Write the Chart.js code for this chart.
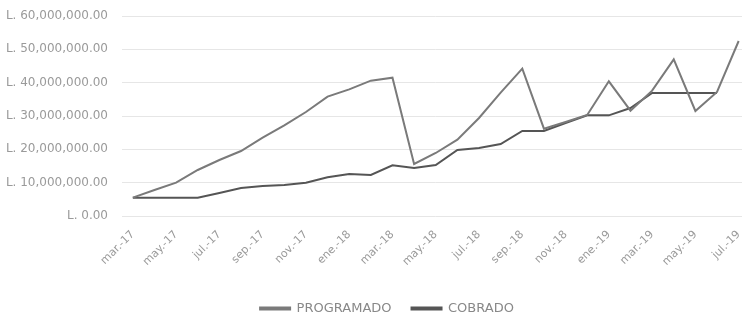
<!DOCTYPE html>
<html>
<head>
<meta charset="utf-8">
<script src="https://cdn.jsdelivr.net/npm/chart.js@4/dist/chart.umd.min.js"></script>
<style>
  html, body { margin: 0; padding: 0; background: #fff; overflow: hidden; }
  #wrap { width: 752px; height: 320px; }
</style>
</head>
<body>
<div id="wrap"><canvas id="grafico" width="752" height="320"></canvas></div>
<script>
// --- Datos ---
const meses = [
  'mar.-17', 'abr.-17', 'may.-17', 'jun.-17', 'jul.-17', 'ago.-17', 'sep.-17', 'oct.-17', 'nov.-17', 'dic.-17',
  'ene.-18', 'feb.-18', 'mar.-18', 'abr.-18', 'may.-18', 'jun.-18', 'jul.-18', 'ago.-18', 'sep.-18', 'oct.-18',
  'nov.-18', 'dic.-18', 'ene.-19', 'feb.-19', 'mar.-19', 'abr.-19', 'may.-19', 'jun.-19', 'jul.-19'
];

// valores en millones de lempiras
const programado = [
  5.5, 7.8, 10.0, 13.8, 16.8, 19.5, 23.5, 27.2, 31.2, 35.8,
  38.0, 40.6, 41.5, 15.6, 18.9, 22.9, 29.4, 37.0, 44.2, 26.2,
  28.2, 30.3, 40.4, 31.6, 37.6, 47.0, 31.5, 37.2, 52.5
];

const cobrado = [
  5.5, 5.5, 5.5, 5.5, 6.9, 8.4, 9.0, 9.3, 10.0, 11.6,
  12.6, 12.3, 15.2, 14.4, 15.3, 19.8, 20.4, 21.6, 25.5, 25.5,
  27.9, 30.2, 30.2, 32.4, 36.9, 36.9, 36.9, 36.9, null
];

const fuente = '"DejaVu Sans", sans-serif';

function lempiras(v) {
  return 'L. ' + v.toLocaleString('en-US', { minimumFractionDigits: 2, maximumFractionDigits: 2 });
}

// corre la leyenda un poco a la derecha, como en el original
const moverLeyenda = {
  id: 'moverLeyenda',
  afterLayout(chart) {
    chart.legend.left += 11;
    chart.legend.right += 11;
  }
};

const ctx = document.getElementById('grafico').getContext('2d');
new Chart(ctx, {
  type: 'line',
  data: {
    labels: meses,
    datasets: [
      {
        label: 'PROGRAMADO',
        data: programado.map(v => v * 1e6),
        borderColor: '#7a7a7a',
        backgroundColor: '#7a7a7a',
        borderWidth: 2,
        pointRadius: 0,
        tension: 0
      },
      {
        label: 'COBRADO',
        data: cobrado.map(v => v === null ? null : v * 1e6),
        borderColor: '#555555',
        backgroundColor: '#555555',
        borderWidth: 2,
        pointRadius: 0,
        tension: 0
      }
    ]
  },
  plugins: [moverLeyenda],
  options: {
    responsive: false,
    animation: false,
    layout: { autoPadding: false, padding: { top: 16, left: 0, right: 0, bottom: -5 } },
    scales: {
      x: {
        offset: true,
        grid: { display: false },
        border: { display: false },
        afterFit: s => { s.height = 66; },
        ticks: {
          autoSkip: false,
          minRotation: 45,
          maxRotation: 45,
          padding: 4,
          color: '#9a9a9a',
          font: { family: fuente, size: 11 },
          callback: function(val, i) { return i % 2 === 0 ? meses[i] : ''; }
        }
      },
      y: {
        min: 0,
        max: 60000000,
        border: { display: false },
        grid: { color: '#e6e6e6', lineWidth: 1, drawTicks: false },
        afterFit: s => {
          s.width = 122;
          s.paddingTop = 0;
          s.paddingBottom = 0;
        },
        ticks: {
          stepSize: 10000000,
          padding: 14,
          color: '#9a9a9a',
          font: { family: fuente, size: 12 },
          callback: v => lempiras(v)
        }
      }
    },
    plugins: {
      tooltip: { enabled: false },
      legend: {
        position: 'bottom',
        labels: {
          boxWidth: 30,
          boxHeight: 2,
          padding: 20,
          color: '#888888',
          font: { family: fuente, size: 13 }
        }
      }
    }
  }
});
</script>
</body>
</html>
